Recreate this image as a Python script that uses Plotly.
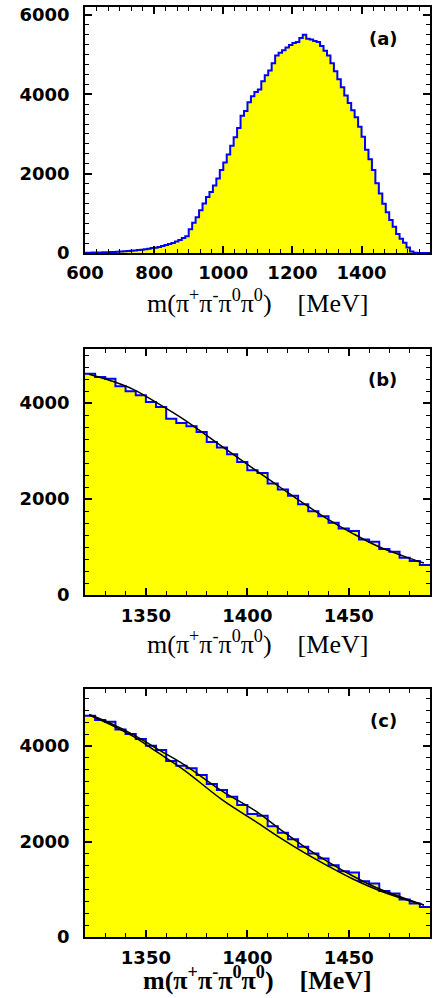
import plotly.graph_objects as go

# ---------------- data ----------------
# panel (a): 10 MeV bins, lower edges
a_bin_lo = list(range(600, 1600, 10))
a_counts = [5, 8, 10, 12, 15, 18, 20, 25, 28, 32,
            38, 45, 50, 58, 65, 75, 85, 95, 110, 125,
            130, 150, 175, 200, 225, 255, 290, 330, 380, 420,
            600, 760, 900, 1080, 1250, 1410, 1540, 1700, 1880, 2090,
            2280, 2480, 2700, 2920, 3150, 3460, 3580, 3800, 3950, 4060,
            4120, 4330, 4480, 4600, 4780, 4980, 5050, 5110, 5180, 5240,
            5290, 5320, 5420, 5500, 5400, 5380, 5340, 5320, 5220, 5100,
            4980, 4780, 4580, 4380, 4180, 3970, 3780, 3600, 3420, 3180,
            2930, 2600, 2360, 2090, 1760, 1500, 1240, 1030, 830, 660,
            480, 360, 260, 140, 40, 5, 0, 0, 0, 0]

# panels (b), (c): 5 MeV bins, lower edges
bc_bin_lo = list(range(1320, 1490, 5))
b_counts = [4610, 4541, 4506, 4347, 4243, 4160, 4021, 3917, 3674, 3584,
            3515, 3397, 3189, 3071, 2933, 2773, 2600, 2544, 2322, 2198,
            2066, 1893, 1747, 1643, 1504, 1387, 1331, 1158, 1109, 957,
            901, 776, 707, 624]
c_counts = [4634, 4544, 4509, 4348, 4251, 4146, 4006, 3916, 3685, 3587,
            3532, 3392, 3204, 3078, 2938, 2764, 2576, 2538, 2322, 2182,
            2049, 1888, 1748, 1643, 1503, 1378, 1350, 1168, 1119, 965,
            909, 783, 699, 629]

fit_m = [1322, 1333, 1344, 1356, 1369, 1388, 1404, 1416, 1428, 1440, 1452, 1464, 1477, 1487]
b_fit = [4600, 4460, 4280, 3990, 3650, 3080, 2600, 2250, 1900, 1570, 1280, 1020, 810, 665]
c_fit_upper = [4660, 4470, 4235, 3930, 3605, 3045, 2640, 2260, 1895, 1570, 1278, 1025, 820, 670]
c_fit_lower = [4650, 4440, 4195, 3860, 3490, 2860, 2420, 2080, 1766, 1480, 1214, 990, 796, 668]

a_xticks = [600, 800, 1000, 1200, 1400]
bc_xticks = [1350, 1400, 1450]
a_yticks = [0, 2000, 4000, 6000]
bc_yticks = [0, 2000, 4000]

panel_labels = ["(a)", "(b)", "(c)"]
x_title = "m(π<sup>+</sup>π<sup>-</sup>π<sup>0</sup>π<sup>0</sup>)\u00a0\u00a0\u00a0\u00a0[MeV]"

# ---------------- figure ----------------
W, H = 433, 998
fig = go.Figure()

YELLOW = "#ffff00"
BLUE = "#0000ff"


def step_xy(lo, counts, width):
    xs = list(lo) + [lo[-1] + width]
    ys = list(counts) + [counts[-1]]
    return xs, ys


def add_hist(lo, counts, width, xa, ya):
    xs, ys = step_xy(lo, counts, width)
    fig.add_trace(go.Scatter(x=xs, y=ys, mode="lines", line=dict(shape="hv", color=BLUE, width=2),
                             fill="tozeroy", fillcolor=YELLOW, xaxis=xa, yaxis=ya,
                             showlegend=False, hoverinfo="skip"))


def add_curve(xs, ys, xa, ya):
    fig.add_trace(go.Scatter(x=xs, y=ys, mode="lines",
                             line=dict(shape="spline", color="black", width=1.5),
                             xaxis=xa, yaxis=ya, showlegend=False, hoverinfo="skip"))


add_hist(a_bin_lo, a_counts, 10, "x", "y")
add_hist(bc_bin_lo, b_counts, 5, "x2", "y2")
add_curve(fit_m, b_fit, "x2", "y2")
add_hist(bc_bin_lo, c_counts, 5, "x3", "y3")
add_curve(fit_m, c_fit_upper, "x3", "y3")
add_curve(fit_m, c_fit_lower, "x3", "y3")

tickfont = dict(family="DejaVu Sans", size=18, color="black", weight="bold")


def axis(rng, dom, tickvals, minor_dtick, anchor, standoff):
    return dict(range=rng, domain=dom, anchor=anchor, tickvals=tickvals,
                automargin=False,
                showline=True, linecolor="black", linewidth=1.8, mirror="allticks",
                ticks="inside", ticklen=7, tickwidth=1.5, tickcolor="black",
                showgrid=False, zeroline=False, tickfont=tickfont,
                ticklabelstandoff=standoff,
                minor=dict(dtick=minor_dtick, tick0=0, ticks="inside", ticklen=4,
                           tickwidth=1, tickcolor="black", showgrid=False))


xdom = [85 / W, 430 / W]


def ydom(top, bottom):
    return [1 - bottom / H, 1 - top / H]


fig.update_layout(
    width=W, height=H,
    margin=dict(l=0, r=0, t=0, b=0, autoexpand=False),
    paper_bgcolor="white", plot_bgcolor="white",
    xaxis=axis([600, 1598], xdom, a_xticks, 200 / 6, "y", 2),
    yaxis=axis([0, 6200], ydom(7, 253), a_yticks, 250, "x", 10),
    xaxis2=axis([1320, 1490], xdom, bc_xticks, 10, "y2", 3),
    yaxis2=axis([0, 5125], ydom(349, 595), bc_yticks, 250, "x2", 10),
    xaxis3=axis([1320, 1490], xdom, bc_xticks, 10, "y3", 3),
    yaxis3=axis([0, 5194], ydom(689, 937), bc_yticks, 250, "x3", 10),
)

ann = []
title_pos = [(302, "middle"), (642, "middle"), (997, "bottom")]
for i, (ty, anc) in enumerate(title_pos):
    txt = x_title if i < 2 else "<b>" + x_title + "</b>"
    ann.append(dict(text=txt, xref="paper", yref="paper", x=257 / W, y=1 - ty / H,
                    xanchor="center", yanchor=anc, showarrow=False,
                    font=dict(family="Liberation Serif", size=26, color="black")))
label_pos = [(383, 38), (382, 379), (383, 720)]
for lab, (lx, ly) in zip(panel_labels, label_pos):
    ann.append(dict(text=lab, xref="paper", yref="paper", x=lx / W, y=1 - ly / H,
                    xanchor="center", yanchor="middle", showarrow=False,
                    font=dict(family="DejaVu Sans", size=18, color="black", weight="bold")))
fig.update_layout(annotations=ann)

fig.write_html("out.html")
